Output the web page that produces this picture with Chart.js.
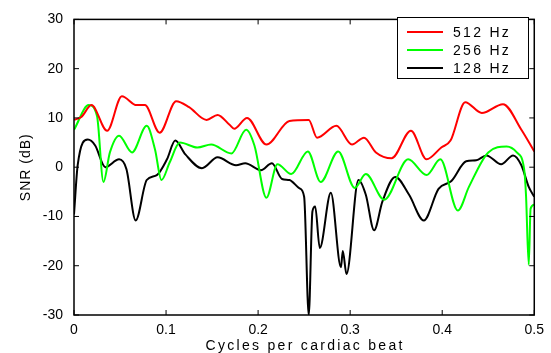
<!DOCTYPE html>
<html>
<head>
<meta charset="utf-8">
<script src="https://cdn.jsdelivr.net/npm/chart.js@4.4.1/dist/chart.umd.min.js"></script>
<style>
    html, body { margin: 0; padding: 0; background: #fff; }
    canvas { display: block; }
</style>
</head>
<body>
<canvas id="snrChart" width="551" height="353"></canvas>
<script>
const xTicks = [0, 0.1, 0.2, 0.3, 0.4, 0.5];
const yTicks = [-30, -20, -10, 0, 10, 20, 30];
const seriesNames = ['512 Hz', '256 Hz', '128 Hz'];
const seriesColors = ['#ff0000', '#00ff00', '#000000'];
const xTitle = 'Cycles per cardiac beat';
const yTitle = 'SNR (dB)';

// 512 Hz
const x512 = [0, 0.008, 0.019, 0.036, 0.052, 0.068, 0.077, 0.093, 0.111, 0.125, 0.144, 0.156, 0.169, 0.174, 0.188, 0.209, 0.234, 0.255, 0.264, 0.285, 0.302, 0.315, 0.328, 0.345, 0.366, 0.383, 0.399, 0.409, 0.425, 0.443, 0.466, 0.486, 0.5];
const snr512 = [9.6, 10.2, 12.6, 7.4, 14.4, 12.6, 12.6, 7, 13.4, 12.2, 9.6, 10.6, 8.6, 7.8, 10, 4.6, 9.4, 9.6, 6, 8.4, 4.6, 6, 3, 1.8, 7.4, 1.6, 4, 5.4, 13.2, 11, 12.8, 7.6, 3.2];

// 256 Hz
const x256 = [0, 0.016, 0.025, 0.032, 0.039, 0.049, 0.063, 0.079, 0.088, 0.095, 0.104, 0.115, 0.134, 0.149, 0.171, 0.187, 0.196, 0.209, 0.221, 0.236, 0.254, 0.268, 0.287, 0.305, 0.317, 0.337, 0.363, 0.383, 0.398, 0.417, 0.429, 0.45, 0.47, 0.481, 0.489, 0.491, 0.494, 0.496, 0.5];
const snr256 = [7.6, 12.6, 10.4, -3, 3, 6.4, 3, 8.4, 3.6, -2.6, 1, 5, 4, 4.6, 2.8, 7.6, 4.4, -6.2, 0.6, -1.4, 3.2, -3, 3.2, -4.2, -1.4, -6.6, 1.6, -1.6, 1.6, -8.8, -4, 3, 4.2, 3, -0.4, -5.6, -19.8, -8.4, -7.6];

// 128 Hz
const x128 = [0, 0.004, 0.015, 0.023, 0.034, 0.049, 0.057, 0.067, 0.079, 0.09, 0.101, 0.11, 0.121, 0.139, 0.156, 0.176, 0.186, 0.203, 0.215, 0.226, 0.234, 0.245, 0.25, 0.255, 0.259, 0.262, 0.267, 0.279, 0.29, 0.292, 0.296, 0.309, 0.317, 0.326, 0.335, 0.349, 0.364, 0.38, 0.396, 0.41, 0.426, 0.437, 0.448, 0.464, 0.477, 0.486, 0.494, 0.5];
const snr128 = [-9.6, 0.4, 5.6, 4.4, 0, 1.6, -0.4, -10.8, -2.6, -1.6, 1.6, 5.4, 2.6, -0.2, 2, 0.4, 0.8, -0.6, 0.8, -2.4, -2.6, -4.3, -6, -30, -9, -8, -16.4, -5.2, -20.3, -17, -21.7, -2.6, -5.6, -12.8, -7, -2, -5.6, -10.8, -4.4, -2.8, 1.2, 1.4, 2.4, 0.6, 2.4, 0.4, -4, -6];

const FONT = '"Liberation Sans", Arial, Helvetica, sans-serif';

function toPoints(xs, ys) {
    return xs.map((x, i) => ({ x: x, y: ys[i] }));
}

// Box, inward ticks, legend and axis titles drawn MATLAB style
const framePlugin = {
    id: 'frame',
    afterDatasetsDraw(chart) {
        const { ctx, chartArea: a, scales } = chart;
        ctx.save();
        ctx.strokeStyle = '#000';
        ctx.lineWidth = 1.5;
        ctx.strokeRect(a.left, a.top, a.right - a.left, a.bottom - a.top);

        ctx.lineWidth = 1;
        ctx.beginPath();
        scales.x.ticks.forEach(t => {
            const px = scales.x.getPixelForValue(t.value);
            ctx.moveTo(px, a.bottom); ctx.lineTo(px, a.bottom - 5);
            ctx.moveTo(px, a.top); ctx.lineTo(px, a.top + 5);
        });
        scales.y.ticks.forEach(t => {
            const py = scales.y.getPixelForValue(t.value);
            ctx.moveTo(a.left, py); ctx.lineTo(a.left + 5, py);
            ctx.moveTo(a.right, py); ctx.lineTo(a.right - 5, py);
        });
        ctx.stroke();

        // legend
        const box = { left: 397, top: 17, width: 131, height: 61 };
        ctx.fillStyle = '#fff';
        ctx.fillRect(box.left, box.top, box.width, box.height);
        ctx.strokeStyle = '#000';
        ctx.lineWidth = 1;
        ctx.strokeRect(box.left + 0.5, box.top + 0.5, box.width, box.height);
        ctx.font = '14px ' + FONT;
        ctx.letterSpacing = '2.3px';
        ctx.textBaseline = 'middle';
        ctx.textAlign = 'left';
        chart.data.datasets.forEach((ds, i) => {
            const rowY = box.top + 15 + i * 18;
            ctx.strokeStyle = ds.borderColor;
            ctx.lineWidth = 2;
            ctx.beginPath();
            ctx.moveTo(box.left + 10, rowY);
            ctx.lineTo(box.left + 46, rowY);
            ctx.stroke();
            ctx.fillStyle = '#000';
            ctx.fillText(ds.label, box.left + 56, rowY + 1);
        });

        // axis titles
        ctx.fillStyle = '#000';
        ctx.textBaseline = 'alphabetic';
        ctx.textAlign = 'center';
        ctx.letterSpacing = '2.3px';
        ctx.fillText(xTitle, (a.left + a.right) / 2 + 1, 350);

        ctx.letterSpacing = '1px';
        ctx.translate(29.5, (a.top + a.bottom) / 2);
        ctx.rotate(-Math.PI / 2);
        ctx.fillText(yTitle, 0, 0);
        ctx.restore();
    }
};

const ctx = document.getElementById('snrChart').getContext('2d');

const chart = new Chart(ctx, {
    type: 'line',
    data: {
        datasets: [
            { label: seriesNames[0], data: toPoints(x512, snr512), borderColor: seriesColors[0] },
            { label: seriesNames[1], data: toPoints(x256, snr256), borderColor: seriesColors[1] },
            { label: seriesNames[2], data: toPoints(x128, snr128), borderColor: seriesColors[2] }
        ].map(ds => Object.assign(ds, {
            borderWidth: 2,
            pointRadius: 0,
            fill: false,
            cubicInterpolationMode: 'monotone'
        }))
    },
    options: {
        responsive: false,
        animation: false,
        layout: { padding: { top: 15, right: 15, bottom: 0, left: 0 } },
        plugins: {
            legend: { display: false },
            tooltip: { enabled: false }
        },
        scales: {
            x: {
                type: 'linear',
                min: 0,
                max: 0.5,
                afterBuildTicks: s => { s.ticks = xTicks.map(v => ({ value: v })); },
                afterFit: s => { s.height = 38; },
                grid: { display: false, drawTicks: false },
                border: { display: false },
                ticks: {
                    color: '#000',
                    padding: 7,
                    maxRotation: 0,
                    autoSkip: false,
                    font: { family: FONT, size: 14 },
                    callback: v => String(v)
                }
            },
            y: {
                type: 'linear',
                min: -30,
                max: 30,
                afterBuildTicks: s => { s.ticks = yTicks.map(v => ({ value: v })); },
                afterFit: s => { s.width = 74; },
                grid: { display: false, drawTicks: false },
                border: { display: false },
                ticks: {
                    color: '#000',
                    padding: 11,
                    autoSkip: false,
                    font: { family: FONT, size: 14 },
                    callback: v => String(v)
                }
            }
        }
    },
    plugins: [framePlugin]
});
</script>
</body>
</html>
